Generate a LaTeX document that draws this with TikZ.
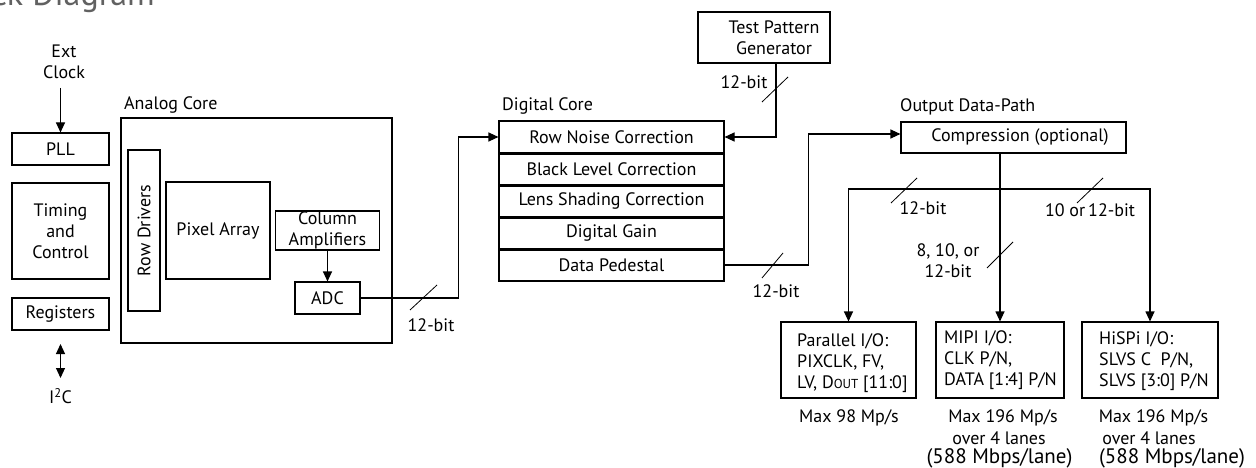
\documentclass[tikz,border=0pt]{standalone}
\usepackage{fontspec}
\setmainfont{PT Sans}
\usetikzlibrary{arrows.meta}
\begin{document}
\begin{tikzpicture}[x=1pt,y=-1pt,
  every node/.style={font=\fontsize{18}{21}\selectfont, inner sep=0pt},
  box/.style={draw, line width=1.1pt, align=center},
  arr/.style={line width=1.1pt, -{Triangle[length=10pt,width=9pt]}},
  arrboth/.style={line width=1.1pt, {Triangle[length=10pt,width=9pt]}-{Triangle[length=10pt,width=9pt]}},
  wire/.style={line width=1.1pt},
  slash/.style={line width=0.8pt},
  txt/.style={align=center},
  big/.style={font=\fontsize{21}{21}\selectfont},
]
\useasboundingbox (0,0) rectangle (1256,468);
% title
\node[anchor=base east, font=\fontsize{34}{34}\selectfont, text=black!62] (title) at (155,6) {ck Diagram};
% left column
\node[txt] (ext) at (64,62) {Ext\\Clock};
\node[box, minimum width=97, minimum height=32] (pll) at (60.5,149) {PLL};
\node[box, minimum width=97, minimum height=96] (tim) at (60.5,231) {Timing\\and\\Control};
\node[box, minimum width=97, minimum height=32] (reg) at (60.5,314) {Registers};
\coordinate (extend) at (60.5,88);
\draw[arr] (extend) -- (pll.north);
\node (i2c) at (60.5,396) {I\textsuperscript{2}C};
\coordinate (i2ctop) at (60.5,344);
\coordinate (i2cbot) at (60.5,378);
\draw[arrboth] (i2ctop) -- (i2cbot);
% analog core
\node[anchor=west] (analbl) at (124,105) {Analog Core};
\node[box, minimum width=271, minimum height=225] (ana) at (256.5,230.5) {};
\node[box, rotate=90, minimum width=161, minimum height=32] (rowd) at (144,230.5) {Row Drivers};
\node[box, minimum width=104, minimum height=97] (pix) at (218,230.5) {Pixel Array};
\node[box, minimum width=104, minimum height=39] (col) at (327.5,230.5) {Column\\Amplifiers};
\node[box, minimum width=65, minimum height=32] (adc) at (327.5,298) {ADC};
\draw[arr] (col.south) -- (adc.north);
% digital core
\node[anchor=west] (diglbl) at (502,106) {Digital Core};
\node[box, minimum width=225, minimum height=32] (r1) at (611.5,137) {Row Noise Correction};
\node[box, minimum width=225, minimum height=32] (r2) at (611.5,169) {Black Level Correction};
\node[box, minimum width=225, minimum height=32] (r3) at (611.5,201) {Lens Shading Correction};
\node[box, minimum width=225, minimum height=32] (r4) at (611.5,233) {Digital Gain};
\node[box, minimum width=225, minimum height=32] (r5) at (611.5,265) {Data Pedestal};
\foreach \r in {r1,r2,r3,r4}{\draw[line width=2pt] (\r.south west) -- (\r.south east);}
\draw[arr] (adc.east) -- ++(98,0) |- (r1.west);
\draw[slash] (410,310) -- (437,285);
\node (l1) at (431,325) {12-bit};
% test pattern generator
\node[box, minimum width=132, minimum height=51] (tpg) at (764,37.5) {};
\node[txt] (tpgt) at (774,37.5) {Test Pattern\\Generator};
\draw[arr] (tpg.south) ++(12,0) |- (r1.east);
\draw[slash] (762,102) -- (788,77);
\node (l2) at (744,82) {12-bit};
% output data path
\node[anchor=west] (odlbl) at (900,107) {Output Data-Path};
\node[box, minimum width=225, minimum height=31] (comp) at (1013.5,137.5) {};
\node (compt) at (1020,137.5) {Compression (optional)};
\draw[arr] (r5.east) -- ++(84,0) |- (comp.west |- 0,134);
\draw[slash] (762,278) -- (783,253);
\node (l3) at (776,291) {12-bit};
% outputs
\node[box, minimum width=135, minimum height=76] (par) at (848.5,360) {};
\node[box, minimum width=128, minimum height=76] (mipi) at (1000,360) {};
\node[box, minimum width=136, minimum height=76] (his) at (1150,360) {};
\node[anchor=west, align=left] (part) at (797,363) {Parallel I/O:\\PIXCLK, FV,\\LV, D{\fontsize{13}{13}\selectfont OUT} [11:0]};
\node[anchor=west, align=left] (mipit) at (944,360) {MIPI I/O:\\CLK P/N,\\DATA [1:4] P/N};
\node[anchor=west, align=left] (hist) at (1099,361) {HiSPi I/O:\\SLVS C\ \ P/N,\\SLVS [3:0] P/N};
\draw[arr] (mipi.north |- comp.south) -- (mipi.north);
\coordinate (bus) at (1000,189);
\draw[arr] (bus) -| (par.north);
\draw[arr] (bus) -| (his.north);
\draw[slash] (891,203) -- (917,178);
\draw[slash] (1077,203) -- (1103,178);
\draw[slash] (987,268) -- (1013,242);
\node (l4) at (923,208) {12-bit};
\node (l5) at (1090,210) {10 or\,12-bit};
\node[txt] (l6) at (948,261) {8, 10, or\\12-bit};
% rates
\node (parm) at (849,418) {Max 98 Mp/s};
\node (mipim1) at (1003,418) {Max 196 Mp/s};
\node (mipim2) at (999,438) {over 4 lanes};
\node[big] (mipim3) at (999.5,458) {(588 Mbps/lane)};
\node (hism1) at (1153.5,418) {Max 196 Mp/s};
\node (hism2) at (1149,438) {over 4 lanes};
\node[big] (hism3) at (1172,458) {(588 Mbps/lane)};
\end{tikzpicture}
\end{document}
